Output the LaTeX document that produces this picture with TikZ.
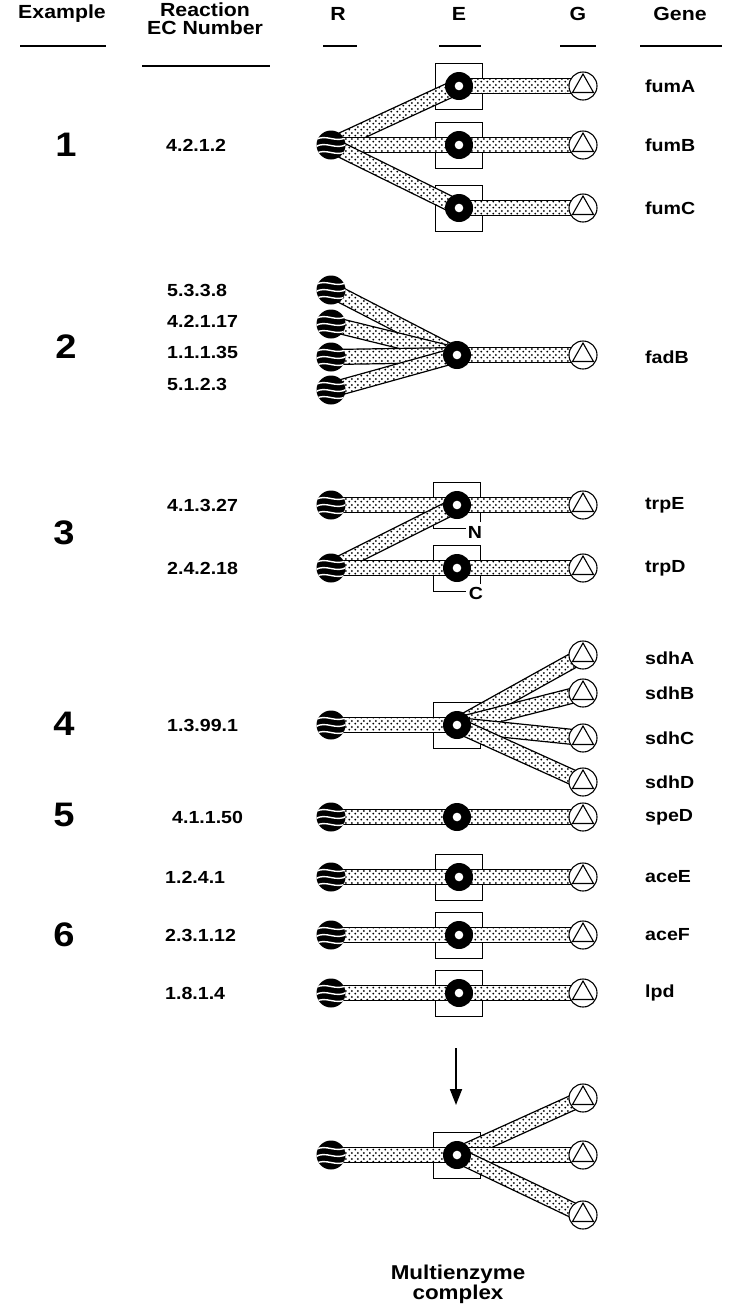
\documentclass[tikz,border=0pt]{standalone}
\usepackage{fontspec}
\setmainfont[FakeStretch=1.12]{Liberation Sans}
\usetikzlibrary{calc,patterns.meta,arrows.meta}
\pgfdeclarelayer{paper}
\pgfdeclarelayer{back}
\pgfdeclarelayer{bars}
\pgfsetlayers{paper,back,bars,main}
\tikzdeclarepattern{name=stip, type=uncolored,
  bounding box={(0pt,0pt) and (6pt,6pt)}, tile size={(6pt,6pt)},
  code={\fill (1.5pt,1.5pt) circle (1.15pt); \fill (4.5pt,4.5pt) circle (1.15pt);}}
\tikzset{
  hdr/.style={font=\bfseries\fontsize{19}{18}\selectfont, align=center, inner sep=0pt},
  lbl/.style={font=\bfseries\fontsize{17.5}{19}\selectfont, inner sep=0pt},
  big/.style={font=\bfseries\fontsize{34}{36}\selectfont, inner sep=0pt},
  uline/.style={line width=1.3pt},
  rnode/.style={circle, fill=black, minimum size=29pt, inner sep=0pt,
    path picture={
      \foreach \o in {-7,0,7}{
        \draw[white, line width=1.4pt] ($(path picture bounding box.center)+(-16pt,\o pt-2pt)$)
          .. controls +(11pt,7pt) and +(-11pt,-7pt) .. ++(32pt,3pt);}
    }},
  enode/.style={circle, fill=black, minimum size=28pt, inner sep=0pt,
    path picture={\fill[white] (path picture bounding box.center) circle (4.3pt);}},
  gnode/.style={circle, draw=black, line width=1.1pt, fill=white, minimum size=28pt, inner sep=0pt,
    path picture={\draw[line width=1.1pt, line join=miter]
      ($(path picture bounding box.center)+(0pt,12pt)$) --
      ($(path picture bounding box.center)+(-10.5pt,-6.5pt)$) --
      ($(path picture bounding box.center)+(10.5pt,-6.5pt)$) -- cycle;}},
  ebox/.style={draw, line width=1pt, minimum width=47pt, minimum height=46pt, inner sep=0pt},
  bar/.style={draw=black, line width=1.2pt, fill=white, postaction={pattern=stip}},
  gene/.style={lbl, anchor=west},
}
\newcommand\conn[2]{\begin{pgfonlayer}{bars}\path[bar]
  ($(#1.center)!7.5pt!90:(#2.center)$) -- ($(#2.center)!7.5pt!-90:(#1.center)$) --
  ($(#2.center)!7.5pt!90:(#1.center)$) -- ($(#1.center)!7.5pt!-90:(#2.center)$) -- cycle;
  \end{pgfonlayer}}
\newcommand\ebx[1]{\begin{pgfonlayer}{back}\node[ebox] (#1box) at (#1) {};\end{pgfonlayer}}
\begin{document}
\begin{tikzpicture}[x=1pt,y=-1pt]
\begin{pgfonlayer}{paper}
\fill[white] (0,0) rectangle (736,1307);
\end{pgfonlayer}
\useasboundingbox (0,0) rectangle (736,1307);
% headers
\node[hdr] (hEx) at (62,14) {Example};
\draw[uline] (20,46) -- (106,46);
\node[hdr] (hEC) at (205,19) {Reaction\\EC Number};
\draw[uline] (142,66) -- (270,66);
\node[hdr] (hR) at (338,14) {R};
\draw[uline] (323,46) -- (357,46);
\node[hdr] (hE) at (459,14) {E};
\draw[uline] (439,46) -- (481,46);
\node[hdr] (hG) at (578,14) {G};
\draw[uline] (560,46) -- (596,46);
\node[hdr] (hGene) at (680,14) {Gene};
\draw[uline] (640,46) -- (722,46);

% Example 1
\node[big] (x1) at (66,145) {1};
\node[lbl,anchor=west] (ec1) at (166,145) {4.2.1.2};
\node[rnode] (r1) at (331,145) {};
\node[enode] (e1a) at (459,86) {};
\node[enode] (e1b) at (459,145) {};
\node[enode] (e1c) at (459,208) {};
\ebx{e1a}\ebx{e1b}\ebx{e1c}
\node[gnode] (g1a) at (583,86) {};
\node[gnode] (g1b) at (583,145) {};
\node[gnode] (g1c) at (583,208) {};
\node[gene] (fumA) at (645,86) {fumA};
\node[gene] (fumB) at (645,145) {fumB};
\node[gene] (fumC) at (645,208) {fumC};
\conn{r1}{e1a}\conn{r1}{e1b}\conn{r1}{e1c}
\conn{e1a}{g1a}\conn{e1b}{g1b}\conn{e1c}{g1c}

% Example 2
\node[big] (x2) at (66,347) {2};
\node[lbl,anchor=west] (ec2a) at (167,290) {5.3.3.8};
\node[lbl,anchor=west] (ec2b) at (167,321) {4.2.1.17};
\node[lbl,anchor=west] (ec2c) at (167,352) {1.1.1.35};
\node[lbl,anchor=west] (ec2d) at (167,384) {5.1.2.3};
\node[rnode] (r2a) at (331,290) {};
\node[rnode] (r2b) at (331,324) {};
\node[rnode] (r2c) at (331,357) {};
\node[rnode] (r2d) at (331,390) {};
\node[enode] (e2) at (457,355) {};
\node[gnode] (g2) at (583,355) {};
\node[gene] (fadB) at (645,357) {fadB};
\conn{r2a}{e2}\conn{r2b}{e2}\conn{r2c}{e2}\conn{r2d}{e2}\conn{e2}{g2}

% Example 3
\node[big] (x3) at (64,533) {3};
\node[lbl,anchor=west] (ec3a) at (167,505) {4.1.3.27};
\node[lbl,anchor=west] (ec3b) at (167,568) {2.4.2.18};
\node[rnode] (r3a) at (331,505) {};
\node[rnode] (r3b) at (331,568) {};
\node[enode] (e3a) at (457,505) {};
\node[enode] (e3b) at (457,568) {};
\node[gnode] (g3a) at (583,505) {};
\node[gnode] (g3b) at (583,568) {};
\node[lbl] (lN) at (475,532) {N};
\node[lbl] (lC) at (476,593) {C};
\begin{pgfonlayer}{back}
\draw[line width=1pt] (480,522) -- (480,482) -- (433,482) -- (433,528) -- (466,528);
\draw[line width=1pt] (480,584) -- (480,545) -- (433,545) -- (433,591) -- (466,591);
\end{pgfonlayer}
\node[gene] (trpE) at (645,505) {trpE};
\node[gene] (trpD) at (645,568) {trpD};
\conn{r3a}{e3a}\conn{r3b}{e3a}\conn{r3b}{e3b}\conn{e3a}{g3a}\conn{e3b}{g3b}

% Example 4
\node[big] (x4) at (64,724) {4};
\node[lbl,anchor=west] (ec4) at (167,725) {1.3.99.1};
\node[rnode] (r4) at (331,725) {};
\node[enode] (e4) at (457,725) {};
\ebx{e4}
\node[gnode] (g4a) at (583,655) {};
\node[gnode] (g4b) at (583,693) {};
\node[gnode] (g4c) at (583,738) {};
\node[gnode] (g4d) at (583,782) {};
\node[gene] (sdhA) at (645,658) {sdhA};
\node[gene] (sdhB) at (645,693) {sdhB};
\node[gene] (sdhC) at (645,738) {sdhC};
\node[gene] (sdhD) at (645,782) {sdhD};
\conn{r4}{e4}\conn{e4}{g4a}\conn{e4}{g4b}\conn{e4}{g4c}\conn{e4}{g4d}

% Example 5
\node[big] (x5) at (64,815) {5};
\node[lbl,anchor=west] (ec5) at (172,817) {4.1.1.50};
\node[rnode] (r5) at (331,817) {};
\node[enode] (e5) at (457,817) {};
\node[gnode] (g5) at (583,817) {};
\node[gene] (speD) at (645,817) {speD};
\conn{r5}{e5}\conn{e5}{g5}

% Example 6
\node[big] (x6) at (64,935) {6};
\node[lbl,anchor=west] (ec6a) at (165,877) {1.2.4.1};
\node[lbl,anchor=west] (ec6b) at (165,935) {2.3.1.12};
\node[lbl,anchor=west] (ec6c) at (165,993) {1.8.1.4};
\node[rnode] (r6a) at (331,877) {};
\node[rnode] (r6b) at (331,935) {};
\node[rnode] (r6c) at (331,993) {};
\node[enode] (e6a) at (459,877) {};
\node[enode] (e6b) at (459,935) {};
\node[enode] (e6c) at (459,993) {};
\ebx{e6a}\ebx{e6b}\ebx{e6c}
\node[gnode] (g6a) at (583,877) {};
\node[gnode] (g6b) at (583,935) {};
\node[gnode] (g6c) at (583,993) {};
\node[gene] (aceE) at (645,877) {aceE};
\node[gene] (aceF) at (645,935) {aceF};
\node[gene] (lpd) at (645,993) {lpd};
\conn{r6a}{e6a}\conn{r6b}{e6b}\conn{r6c}{e6c}
\conn{e6a}{g6a}\conn{e6b}{g6b}\conn{e6c}{g6c}

% arrow
\coordinate (aTop) at (456,1048);
\coordinate (aBot) at (456,1105);
\draw[line width=1.8pt, -{Triangle[length=16pt,width=12pt]}] (aTop) -- (aBot);

% multienzyme complex
\node[rnode] (r7) at (331,1155) {};
\node[enode] (e7) at (457,1155) {};
\ebx{e7}
\node[gnode] (g7a) at (583,1098) {};
\node[gnode] (g7b) at (583,1155) {};
\node[gnode] (g7c) at (583,1215) {};
\conn{r7}{e7}\conn{e7}{g7a}\conn{e7}{g7b}\conn{e7}{g7c}
\node[hdr, font=\bfseries\fontsize{20}{20}\selectfont] (mec) at (458,1284) {Multienzyme\\complex};
\end{tikzpicture}
\end{document}
